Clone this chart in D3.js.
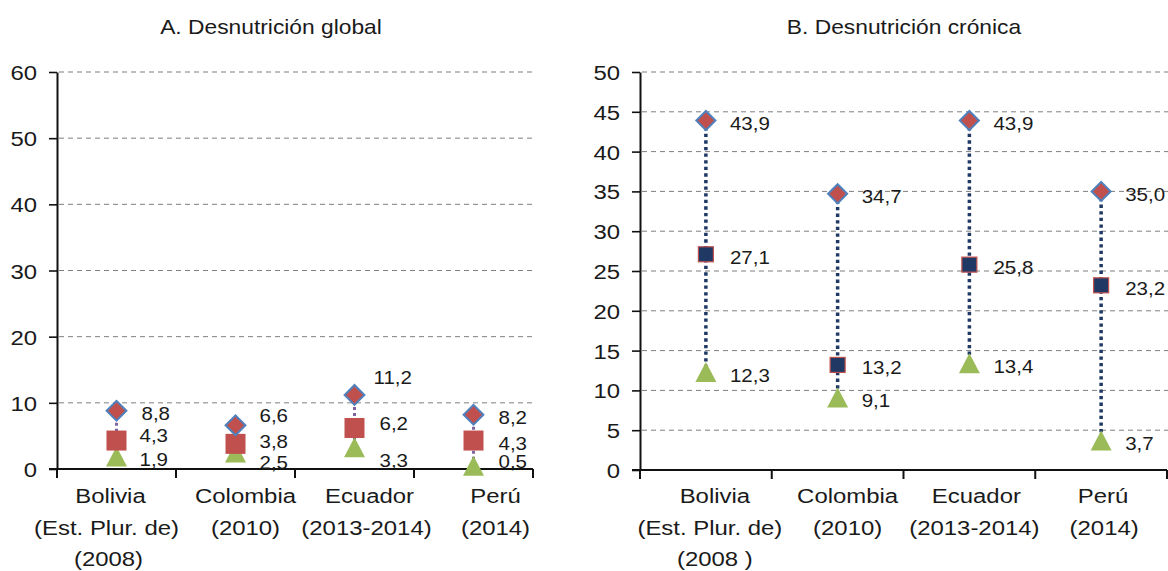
<!DOCTYPE html>
<html>
<head>
<meta charset="utf-8">
<script src="https://cdn.jsdelivr.net/npm/d3@7"></script>
<style>
  html, body { margin: 0; padding: 0; background: #fff; }
  svg { display: block; font-family: "Liberation Sans", Arial, sans-serif; }
</style>
</head>
<body>
<svg id="chart" width="1168" height="571"></svg>
<script>
// ---------- data ----------
const countries = ["Bolivia", "Colombia", "Ecuador", "Perú"];
const catLabelsA = [["Bolivia", "(Est. Plur. de)", "(2008)"], ["Colombia", "(2010)"], ["Ecuador", "(2013-2014)"], ["Perú", "(2014)"]];
const catLabelsB = [["Bolivia", "(Est. Plur. de)", "(2008 )"], ["Colombia", "(2010)"], ["Ecuador", "(2013-2014)"], ["Perú", "(2014)"]];

const globalHigh = [8.8, 6.6, 11.2, 8.2];
const globalMid  = [4.3, 3.8, 6.2, 4.3];
const globalLow  = [1.9, 2.5, 3.3, 0.5];

const chronicHigh = [43.9, 34.7, 43.9, 35.0];
const chronicMid  = [27.1, 13.2, 25.8, 23.2];
const chronicLow  = [12.3, 9.1, 13.4, 3.7];

const ticksA = [0, 10, 20, 30, 40, 50, 60];
const ticksB = [0, 5, 10, 15, 20, 25, 30, 35, 40, 45, 50];

const titleA = "A. Desnutrición global";
const titleB = "B. Desnutrición crónica";

// ---------- layout (not data) ----------
const SX = 1.14; // horizontal text stretch
const C = { red: "#c0504d", blue: "#4f81bd", green: "#9bbb59", navy: "#1f3864", purple: "#8064a2", grid: "#7f7f7f", text: "#1a1a1a" };
// label offsets in chart A [dx, dy] for high, mid, low
const offA = [
  [[25, 3], [23, -5], [23, 3]],
  [[24, -10], [24, -2], [24, 10]],
  [[19, -17], [25, -4], [25, 13]],
  [[25, 3], [25, 3], [25, -4]]
];
const catShiftA = [[-6, -10, -8], [10, 10], [15, 12], [22, 22]];
const catShiftB = [[9, 4, 9], [10, 10], [7, 5], [2, 3]];

const svg = d3.select("#chart");
const fmt = v => d3.format(".1f")(v).replace(".", ",");

function sText(g, x, y, str, size, anchor) {
  return g.append("text")
    .attr("transform", `translate(${x},${y}) scale(${SX},1)`)
    .attr("text-anchor", anchor || "start")
    .attr("font-size", size)
    .attr("fill", C.text)
    .text(str);
}

const triPath = "M0,-10L10.5,10L-10.5,10Z";

function panel(opts) {
  const g = svg.append("g");
  const x = d3.scaleBand().domain(countries).range(opts.xr).paddingInner(0).paddingOuter(0);
  const y = d3.scaleLinear().domain([0, opts.ticks[opts.ticks.length - 1]]).range(opts.yr);

  // title
  sText(g, opts.titleX, 34, opts.title, 20, "middle");

  // gridlines
  g.append("g").selectAll("line").data(opts.ticks.filter(t => t > 0)).join("line")
    .attr("x1", opts.xr[0] + 2).attr("x2", opts.gridEnd)
    .attr("y1", d => y(d)).attr("y2", d => y(d))
    .attr("stroke", C.grid).attr("stroke-width", 1).attr("stroke-dasharray", "5,4");

  // y axis
  const ya = g.append("g").attr("transform", `translate(${opts.xr[0]},0)`)
    .call(d3.axisLeft(y).tickValues(opts.ticks).tickSize(8).tickSizeOuter(0).tickPadding(0).tickFormat(d3.format("d")));
  ya.select(".domain").attr("stroke", "#111").attr("stroke-width", 2);
  ya.selectAll(".tick line").attr("stroke", "#111").attr("stroke-width", 1.6);
  ya.selectAll(".tick text")
    .attr("x", -20 / SX).attr("dy", "0.36em")
    .attr("transform", `scale(${SX},1)`)
    .attr("font-size", 21).attr("font-family", "Liberation Sans, Arial, sans-serif").attr("fill", C.text);

  // x axis
  const y0 = y(0);
  g.append("line").attr("x1", opts.xr[0] - 8).attr("x2", opts.xr[1]).attr("y1", y0).attr("y2", y0)
    .attr("stroke", "#111").attr("stroke-width", 2);
  g.append("g").selectAll("line").data(d3.range(countries.length + 1)).join("line")
    .attr("x1", i => opts.xr[0] + i * x.step()).attr("x2", i => opts.xr[0] + i * x.step())
    .attr("y1", y0).attr("y2", y0 + 9)
    .attr("stroke", "#111").attr("stroke-width", 2);

  // category labels
  opts.cats.forEach((lines, i) => {
    lines.forEach((ln, j) => {
      sText(g, x(countries[i]) + x.bandwidth() / 2 + opts.catShift[i][j], 503 + j * 31.5, ln, 21, "middle");
    });
  });

  // connectors
  const cx = d => x(d) + x.bandwidth() / 2;
  g.append("g").selectAll("line").data(countries).join("line")
    .attr("x1", cx).attr("x2", cx)
    .attr("y1", (d, i) => y(opts.high[i])).attr("y2", (d, i) => y(opts.low[i]))
    .attr("stroke", opts.connColor).attr("stroke-width", opts.connW).attr("stroke-dasharray", opts.connDash);

  // markers
  g.append("g").selectAll("path").data(countries).join("path")
    .attr("d", triPath)
    .attr("transform", (d, i) => `translate(${cx(d)},${y(opts.low[i])})`)
    .attr("fill", C.green);
  g.append("g").selectAll("rect").data(countries).join("rect")
    .attr("x", d => cx(d) - opts.sq / 2).attr("y", (d, i) => y(opts.mid[i]) - opts.sq / 2)
    .attr("width", opts.sq).attr("height", opts.sq)
    .attr("fill", opts.sqFill).attr("stroke", opts.sqStroke).attr("stroke-width", opts.sqStrokeW);
  g.append("g").selectAll("path").data(countries).join("path")
    .attr("d", d3.symbol(d3.symbolSquare, opts.dia * opts.dia)())
    .attr("transform", (d, i) => `translate(${cx(d)},${y(opts.high[i])}) rotate(45)`)
    .attr("fill", C.red).attr("stroke", C.blue).attr("stroke-width", 2);

  // value labels
  [opts.high, opts.mid, opts.low].forEach((arr, k) => {
    arr.forEach((v, i) => {
      const o = opts.off(i, k);
      sText(g, cx(countries[i]) + o[0], y(v) + o[1] + 6.5, fmt(v), 18, "start");
    });
  });
}

panel({
  title: titleA, titleX: 271, xr: [57, 533], yr: [469, 72], gridEnd: 535, ticks: ticksA,
  cats: catLabelsA, catShift: catShiftA,
  high: globalHigh, mid: globalMid, low: globalLow,
  connColor: C.purple, connW: 3, connDash: "3,3",
  sq: 20, sqFill: C.red, sqStroke: C.red, sqStrokeW: 0,
  dia: 14,
  off: (i, k) => offA[i][k]
});

panel({
  title: titleB, titleX: 904, xr: [640, 1167], yr: [470, 72], gridEnd: 1168, ticks: ticksB,
  cats: catLabelsB, catShift: catShiftB,
  high: chronicHigh, mid: chronicMid, low: chronicLow,
  connColor: C.navy, connW: 3.5, connDash: "3.3,3.3",
  sq: 15, sqFill: C.navy, sqStroke: C.red, sqStrokeW: 1.2,
  dia: 13.5,
  off: () => [24, 3]
});
</script>
</body>
</html>
